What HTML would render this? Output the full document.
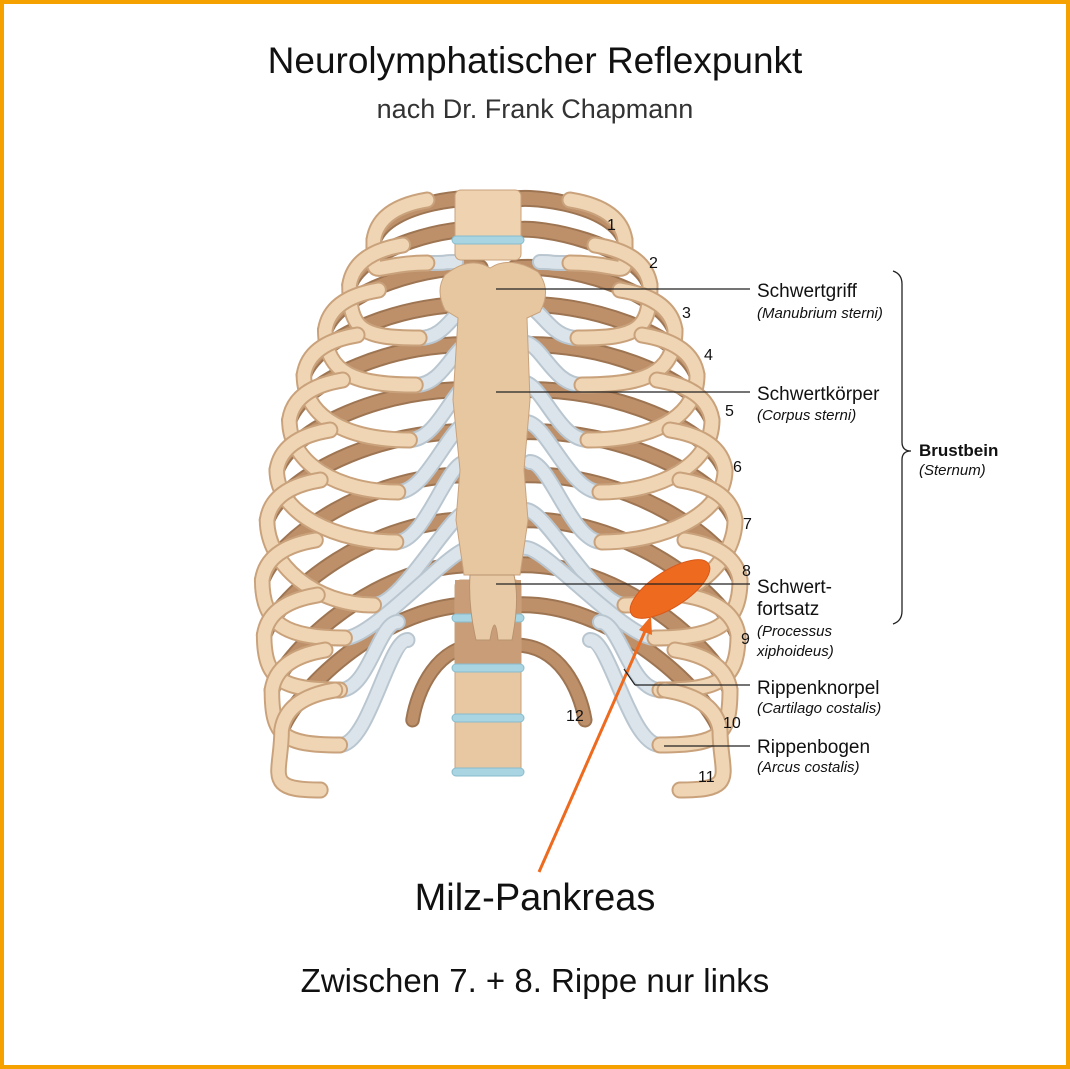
<!DOCTYPE html>
<html><head><meta charset="utf-8"><style>
html,body{margin:0;padding:0;background:#fff}
#w{position:relative;width:1062px;height:1061px;border:4px solid #f5a100;font-family:"Liberation Sans",sans-serif;overflow:hidden}
.t{position:absolute;left:0;width:1062px;text-align:center;color:#111}
</style></head><body><div id="w">
<div class="t" style="top:36px;font-size:37px">Neurolymphatischer Reflexpunkt</div>
<div class="t" style="top:90px;font-size:27px;color:#333">nach Dr. Frank Chapmann</div>
<svg id="s" width="1062" height="1061" style="position:absolute;left:0;top:0" font-family="Liberation Sans, sans-serif"></svg>
<div class="t" style="top:873px;font-size:38px">Milz-Pankreas</div>
<div class="t" style="top:958px;font-size:33px">Zwischen 7. + 8. Rippe nur links</div>
</div>
<script>
var ox=-4,oy=-4;
var ribs=[
[200,625,240,570,263,540,262],
[230,650,285,578,338,522,305],
[268,675,330,582,385,522,342],
[305,697,375,588,440,522,382],
[345,712,420,600,492,526,422],
[390,725,470,602,542,530,462],
[432,735,520,625,605,526,510],
[475,740,580,655,638,526,548],
[520,738,635,660,690,600,622],
[565,730,690,660,745,590,640],
[605,720,730,680,790,0,0]];
var back='',front='',cart='';
function P(d,c,w){return '<path d="'+d+'" fill="none" stroke="'+c+'" stroke-width="'+w+'" stroke-linecap="round"/>';}
ribs.forEach(function(r){var yb=r[0],xo=r[1],ym=r[2],xf=r[3],yf=r[4],xc=r[5],yc=r[6];
var db='M515 '+yb+' C'+(xo-110)+' '+(yb-5)+' '+(xo-15)+' '+(ym-40)+' '+xo+' '+ym;
back+=P(db,'#9e7552',17)+P(db,'#bd906a',13);
var df='M'+(xo-55)+' '+(ym-40)+' Q'+(xo-5)+' '+(ym-32)+' '+xo+' '+ym+' C'+xo+' '+(ym+45)+' '+(xf+60)+' '+yf+' '+xf+' '+yf;
front+=P(df,'#c9a27c',17)+P(df,'#efd5b3',13);
if(xc){var dc='M'+xf+' '+yf+' C'+(xf-30)+' '+yf+' '+(xc+20)+' '+yc+' '+xc+' '+yc;cart+=P(dc,'#b9c6d0',16)+P(dc,'#dbe4ea',12);}
});
var d12='M515 645 C560 645 580 690 585 720';back+=P(d12,'#9e7552',15)+P(d12,'#bd906a',11);
var half=back+cart+front;
var g='<g transform="translate('+ox+','+oy+')">';
g+='<g transform="translate(990,0) scale(-1,1) translate(10,0) scale(0.97,1)">'+half+'</g>'+half;
g+='<rect x="455" y="190" width="66" height="70" rx="6" fill="#efd3b0" stroke="#c9a27c"/>';
g+='<rect x="455" y="580" width="66" height="195" rx="6" fill="#e7c8a2" stroke="#c9a27c"/>';
g+='<rect x="455" y="580" width="66" height="85" fill="#c99d77"/>';
[240,618,668,718,772].forEach(function(y){g+='<rect x="452" y="'+(y-4)+'" width="72" height="8" rx="4" fill="#a9d4e2" stroke="#88bccc"/>';});
g+='<path d="M445 275 Q470 255 490 268 Q510 255 538 272 Q552 290 540 312 L527 318 L530 400 L524 470 L528 520 L520 575 L464 575 L456 520 L460 470 L453 400 L458 318 L445 310 Q435 290 445 275Z" fill="#e6c7a0" stroke="#c9a27c"/>';
g+='<path d="M470 575 L514 575 Q520 600 512 640 L498 640 Q495 610 490 640 L476 640 Q468 605 470 575Z" fill="#e8cba6" stroke="#b99370"/>';
g+='</g>';
g+='<ellipse cx="666" cy="585" rx="46" ry="18" transform="rotate(-33 666 585)" fill="#ee6a1e" stroke="#d9581a"/>';
g+='<line x1="535" y1="868" x2="642" y2="625" stroke="#ee6a1e" stroke-width="3"/>';
g+='<polygon points="647,612 648,631 635,626" fill="#ee6a1e"/>';
function L(x1,y1,x2,y2){return '<line x1="'+x1+'" y1="'+y1+'" x2="'+x2+'" y2="'+y2+'" stroke="#222" stroke-width="1.2"/>';}
g+=L(492,285,746,285)+L(492,388,746,388)+L(492,580,746,580)+L(620,665,631,681)+L(631,681,746,681)+L(660,742,746,742);
function T(x,y,s,t,st){return '<text x="'+x+'" y="'+y+'" font-size="'+s+'" '+(st||'')+' fill="#111">'+t+'</text>';}
var it='font-style="italic"';
g+=T(753,293,19,'Schwertgriff')+T(753,314,15,'(Manubrium sterni)',it);
g+=T(753,396,19,'Schwertkörper')+T(753,416,15,'(Corpus sterni)',it);
g+=T(753,589,19,'Schwert-')+T(753,611,19,'fortsatz')+T(753,632,15,'(Processus',it)+T(753,652,15,'xiphoideus)',it);
g+=T(753,690,19,'Rippenknorpel')+T(753,709,15,'(Cartilago costalis)',it);
g+=T(753,749,19,'Rippenbogen')+T(753,768,15,'(Arcus costalis)',it);
g+=T(915,452,17,'Brustbein','font-weight="bold"')+T(915,471,15,'(Sternum)',it);
g+='<path d="M889 267 Q898 270 898 280 L898 438 Q898 447 907 447 Q898 447 898 456 L898 607 Q898 617 889 620" fill="none" stroke="#222" stroke-width="1.3"/>';
[[1,603,226],[2,645,264],[3,678,314],[4,700,356],[5,721,412],[6,729,468],[7,739,525],[8,738,572],[9,737,640],[10,719,724],[11,694,778],[12,562,717]].forEach(function(n){g+=T(n[1],n[2],16,n[0]);});
document.getElementById('s').innerHTML=g;
</script>
</body></html>
